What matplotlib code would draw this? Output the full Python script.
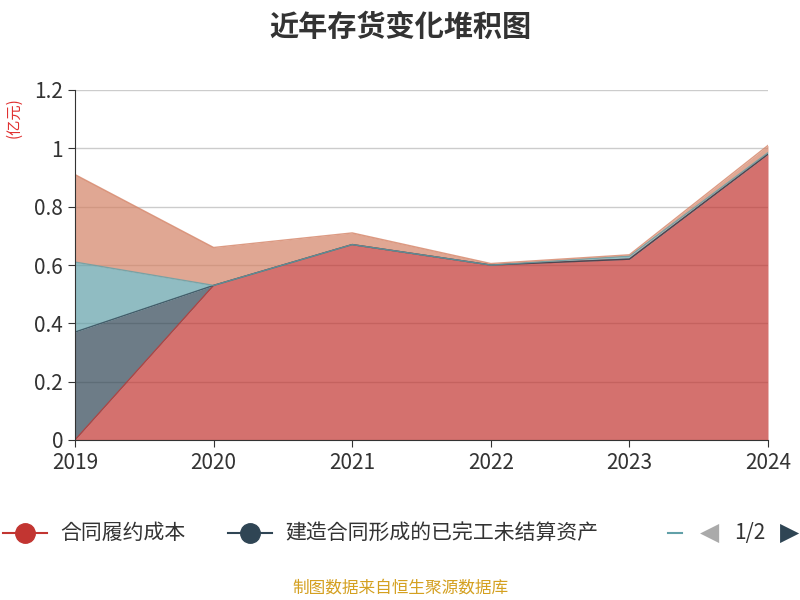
import matplotlib.pyplot as plt
from matplotlib.lines import Line2D
import numpy as np

plt.rcParams['font.family'] = ['Noto Sans CJK SC', 'Noto Sans CJK JP', 'Noto Sans CJK TC', 'DejaVu Sans']

years = ['2019', '2020', '2021', '2022', '2023', '2024']
contract_cost = [0.0, 0.53, 0.67, 0.60, 0.62, 0.98]
unsettled_assets = [0.37, 0.0, 0.0, 0.0, 0.0, 0.0]
third_series = [0.24, 0.0, 0.0, 0.0, 0.01, 0.005]
fourth_series = [0.30, 0.13, 0.04, 0.005, 0.005, 0.025]

colors = ['#c23531', '#2f4554', '#61a0a8', '#d48265']
series = [contract_cost, unsettled_assets, third_series, fourth_series]

fig = plt.figure(figsize=(8, 6), dpi=100)
ax = fig.add_axes([75/800, 1-440/600, 693/800, 350/600])

x = np.arange(len(years))
base = np.zeros(len(years))
for vals, c in zip(series, colors):
    top = base + np.array(vals)
    ax.fill_between(x, base, top, color=c, alpha=0.7, lw=0)
    ax.plot(x, top, color=c, lw=1, alpha=0.8)
    base = top

ax.set_xlim(0, 5)
ax.set_ylim(0, 1.2)
ax.set_xticks(x)
ax.set_xticklabels(years, fontsize=15, color='#333333')
ax.set_yticks([0, 0.2, 0.4, 0.6, 0.8, 1.0, 1.2])
ax.set_yticklabels(['0', '0.2', '0.4', '0.6', '0.8', '1', '1.2'], fontsize=15, color='#333333')
ax.grid(axis='y', color='#cccccc', lw=1)
ax.set_axisbelow(True)
for s in ['top', 'right']:
    ax.spines[s].set_visible(False)
ax.spines['left'].set_color('#333333')
ax.spines['bottom'].set_color('#333333')
ax.tick_params(length=5, color='#333333')

fig.text(0.5, 0.955, '近年存货变化堆积图', ha='center', va='center', fontsize=21, fontweight='bold', color='#333333')
fig.text(14/800, 1-118/600, '(亿元)', rotation=90, ha='center', va='center', fontsize=11, color='#e03030')

# legend row
ly = 1 - 533/600
for cx, c in [(25, colors[0]), (250, colors[1])]:
    fig.add_artist(Line2D([(cx-22)/800, (cx+22)/800], [ly, ly], color=c, lw=1.5))
    fig.add_artist(Line2D([cx/800], [ly], marker='o', markersize=14, color=c))
fig.text(60/800, ly, '合同履约成本', va='center', fontsize=15, color='#333333')
fig.text(285/800, ly, '建造合同形成的已完工未结算资产', va='center', fontsize=15, color='#333333')
fig.add_artist(Line2D([668/800, 682/800], [ly, ly], color=colors[2], lw=1.5))
fig.text(710/800, ly, '◀', ha='center', va='center', fontsize=18, color='#aaaaaa', family='DejaVu Sans')
fig.text(750/800, ly, '1/2', ha='center', va='center', fontsize=15, color='#333333')
fig.text(790/800, ly, '▶', ha='center', va='center', fontsize=18, color='#2f4554', family='DejaVu Sans')

fig.text(0.5, 1-588/600, '制图数据来自恒生聚源数据库', ha='center', va='center', fontsize=12, color='#d4a020')

fig.savefig('out.png', dpi=100)
